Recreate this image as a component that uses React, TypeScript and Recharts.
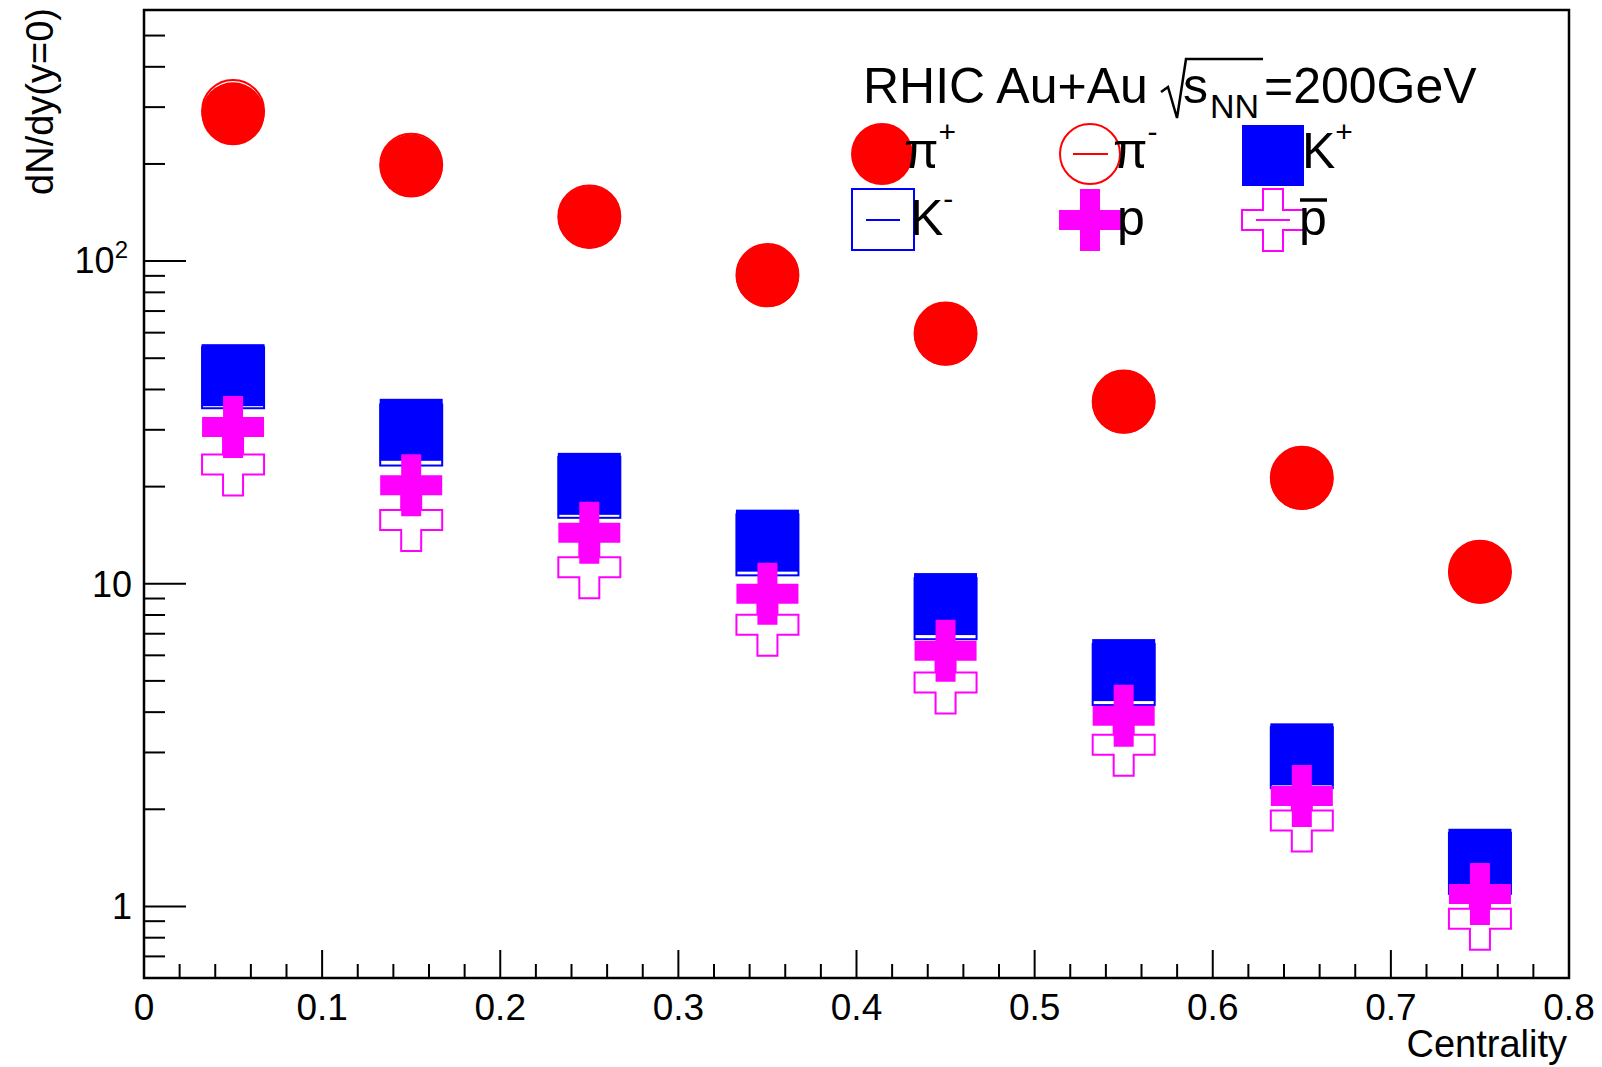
import React from "react";
import { ScatterChart, Scatter, XAxis, YAxis } from "recharts";

const W = 1602;
const H = 1067;
const PLOT = { left: 144, top: 10, right: 1569, bottom: 978 };
const FONT = "'Liberation Sans', Arial, Helvetica, sans-serif";
const Y_AXIS_W = 100;
const X_AXIS_H = 60;

const RED = "#ff0000";
const BLUE = "#0000ff";
const MAGENTA = "#ff00ff";

// centrality bin centres
const centrality = [0.05, 0.15, 0.25, 0.35, 0.45, 0.55, 0.65, 0.75];

// dN/dy at y=0
const piPlus = [286, 197, 136.5, 90.0, 59.3, 36.5, 21.2, 10.85];
const piMinus = [292, 199, 137.5, 90.5, 59.6, 36.7, 21.3, 10.9];
const kPlus = [44.3, 30.0, 20.4, 13.6, 8.65, 5.4, 2.96, 1.395];
const kMinus = [43.5, 28.9, 19.9, 13.2, 8.37, 5.23, 2.89, 1.36];
const proton = [30.6, 20.2, 14.4, 9.31, 6.2, 3.9, 2.2, 1.093];
const antiProton = [23.4, 15.75, 11.24, 7.46, 4.94, 3.17, 1.845, 0.915];

const xTicks = [
  0, 0.02, 0.04, 0.06, 0.08, 0.1, 0.12, 0.14, 0.16, 0.18, 0.2, 0.22, 0.24, 0.26, 0.28,
  0.3, 0.32, 0.34, 0.36, 0.38, 0.4, 0.42, 0.44, 0.46, 0.48, 0.5, 0.52, 0.54, 0.56, 0.58,
  0.6, 0.62, 0.64, 0.66, 0.68, 0.7, 0.72, 0.74, 0.76, 0.78, 0.8,
];
const yTicks = [
  0.7, 0.8, 0.9, 1, 2, 3, 4, 5, 6, 7, 8, 9, 10, 20, 30, 40, 50, 60, 70, 80, 90,
  100, 200, 300, 400, 500, 600,
];
const yMajor = [1, 10, 100];

const toPts = (vals: number[]) => centrality.map((x, i) => ({ x, y: vals[i] }));

const isMajorX = (v: number) => Math.abs(v * 10 - Math.round(v * 10)) < 1e-6;

const XTick = (props: any) => {
  const { x, payload } = props;
  const v = payload.value;
  const major = isMajorX(v);
  const y0 = PLOT.bottom;
  return (
    <g>
      <line x1={x} x2={x} y1={y0} y2={y0 - (major ? 28 : 14)} stroke="#000" strokeWidth={2} />
      {major && (
        <text x={x} y={1020} textAnchor="middle" fontSize={37} fontFamily={FONT} fill="#000">
          {v === 0 ? "0" : v.toFixed(1)}
        </text>
      )}
    </g>
  );
};

const YTick = (props: any) => {
  const { y, payload } = props;
  const v = payload.value;
  const major = yMajor.includes(v);
  const x0 = PLOT.left;
  return (
    <g>
      <line x1={x0} x2={x0 + (major ? 42 : 21)} y1={y} y2={y} stroke="#000" strokeWidth={2} />
      {major && v === 100 && (
        <text x={128} y={y + 12} textAnchor="end" fontSize={36} fontFamily={FONT} fill="#000">
          10<tspan dy={-15} fontSize={24}>2</tspan>
        </text>
      )}
      {major && v !== 100 && (
        <text x={132} y={y + 13} textAnchor="end" fontSize={36} fontFamily={FONT} fill="#000">
          {String(v)}
        </text>
      )}
    </g>
  );
};

const crossPoints = (cx: number, cy: number, h = 31, b = 10) =>
  [
    [cx - b, cy - h], [cx + b, cy - h], [cx + b, cy - b], [cx + h, cy - b],
    [cx + h, cy + b], [cx + b, cy + b], [cx + b, cy + h], [cx - b, cy + h],
    [cx - b, cy + b], [cx - h, cy + b], [cx - h, cy - b], [cx - b, cy - b],
  ]
    .map((p) => p.join(","))
    .join(" ");

const FullCircle = (p: any) => <circle cx={p.cx} cy={p.cy} r={31.5} fill={RED} />;
const OpenCircle = (p: any) => (
  <circle cx={p.cx} cy={p.cy} r={31} fill="none" stroke={RED} strokeWidth={2} />
);
const FullSquare = (p: any) => (
  <rect x={p.cx - 31.5} y={p.cy - 31} width={63} height={62} fill={BLUE} />
);
const OpenSquare = (p: any) => (
  <rect x={p.cx - 31} y={p.cy - 30.5} width={62} height={61} fill="none" stroke={BLUE} strokeWidth={2} />
);
const FullCross = (p: any) => <polygon points={crossPoints(p.cx, p.cy)} fill={MAGENTA} />;
const OpenCross = (p: any) => (
  <polygon points={crossPoints(p.cx, p.cy)} fill="none" stroke={MAGENTA} strokeWidth={2} />
);

const Overlay = () => (
  <svg
    width={W}
    height={H}
    style={{ position: "absolute", left: 0, top: 0, pointerEvents: "none" }}
    fontFamily={FONT}
  >
    {/* frame */}
    <rect
      x={PLOT.left}
      y={PLOT.top}
      width={PLOT.right - PLOT.left}
      height={PLOT.bottom - PLOT.top}
      fill="none"
      stroke="#000"
      strokeWidth={2.5}
    />
    {/* axis titles */}
    <text x={1567} y={1057} textAnchor="end" fontSize={38} fill="#000">
      Centrality
    </text>
    <text
      x={0}
      y={0}
      transform="translate(53,8) rotate(-90)"
      textAnchor="end"
      fontSize={38}
      fill="#000"
    >
      dN/dy(y=0)
    </text>

    {/* title */}
    <text x={863} y={103} fontSize={50} fill="#000">RHIC Au+Au</text>
    <path d="M1161,92 L1168,87 L1177,118 L1186,59 L1263,59" fill="none" stroke="#000" strokeWidth={2.5} />
    <text x={1183} y={103} fontSize={50} fill="#000">s</text>
    <text x={1210} y={118} fontSize={34} fill="#000">NN</text>
    <text x={1264} y={103} fontSize={50} fill="#000">=200GeV</text>

    {/* legend row 1 */}
    <circle cx={882} cy={154} r={31} fill={RED} />
    <text x={904} y={168} fontSize={50} fill="#000">
      π<tspan dy={-26} fontSize={30}>+</tspan>
    </text>
    <line x1={1073} x2={1108} y1={154} y2={154} stroke={RED} strokeWidth={2} />
    <circle cx={1090} cy={154} r={30} fill="none" stroke={RED} strokeWidth={2} />
    <text x={1113} y={168} fontSize={50} fill="#000">
      π<tspan dy={-26} fontSize={30}>-</tspan>
    </text>
    <rect x={1242} y={125} width={62} height={61} fill={BLUE} />
    <text x={1302} y={168} fontSize={50} fill="#000">
      K<tspan dy={-26} fontSize={30}>+</tspan>
    </text>

    {/* legend row 2 */}
    <line x1={866} x2={900} y1={220} y2={220} stroke={BLUE} strokeWidth={2} />
    <rect x={852} y={189} width={62} height={61} fill="none" stroke={BLUE} strokeWidth={2} />
    <text x={910} y={235} fontSize={50} fill="#000">
      K<tspan dy={-26} fontSize={30}>-</tspan>
    </text>
    <polygon points={crossPoints(1090, 220)} fill={MAGENTA} />
    <text x={1117} y={235} fontSize={50} fill="#000">p</text>
    <line x1={1256} x2={1290} y1={220} y2={220} stroke={MAGENTA} strokeWidth={2} />
    <polygon points={crossPoints(1273, 220)} fill="none" stroke={MAGENTA} strokeWidth={2} />
    <text x={1299} y={235} fontSize={50} fill="#000">p</text>
    <line x1={1300} x2={1327} y1={200} y2={200} stroke="#000" strokeWidth={3.5} />
  </svg>
);

export default function App() {
  return (
    <div style={{ position: "absolute", left: 0, top: 0, width: W, height: H, background: "#fff" }}>
      <ScatterChart
        width={W}
        height={H}
        margin={{
          top: PLOT.top,
          right: W - PLOT.right,
          bottom: H - PLOT.bottom - X_AXIS_H,
          left: PLOT.left - Y_AXIS_W,
        }}
      >
        <XAxis
          type="number"
          dataKey="x"
          domain={[0, 0.8]}
          ticks={xTicks}
          interval={0}
          height={X_AXIS_H}
          tickSize={0}
          tickMargin={0}
          axisLine={false}
          tickLine={false}
          tick={<XTick />}
          allowDataOverflow
        />
        <YAxis
          type="number"
          dataKey="y"
          scale="log"
          domain={[0.6, 600]}
          ticks={yTicks}
          interval={0}
          width={Y_AXIS_W}
          tickSize={0}
          tickMargin={0}
          axisLine={false}
          tickLine={false}
          tick={<YTick />}
          allowDataOverflow
        />
        <Scatter data={toPts(piPlus)} shape={FullCircle} isAnimationActive={false} />
        <Scatter data={toPts(piMinus)} shape={OpenCircle} isAnimationActive={false} />
        <Scatter data={toPts(kPlus)} shape={FullSquare} isAnimationActive={false} />
        <Scatter data={toPts(kMinus)} shape={OpenSquare} isAnimationActive={false} />
        <Scatter data={toPts(antiProton)} shape={OpenCross} isAnimationActive={false} />
        <Scatter data={toPts(proton)} shape={FullCross} isAnimationActive={false} />
      </ScatterChart>
      <Overlay />
    </div>
  );
}
